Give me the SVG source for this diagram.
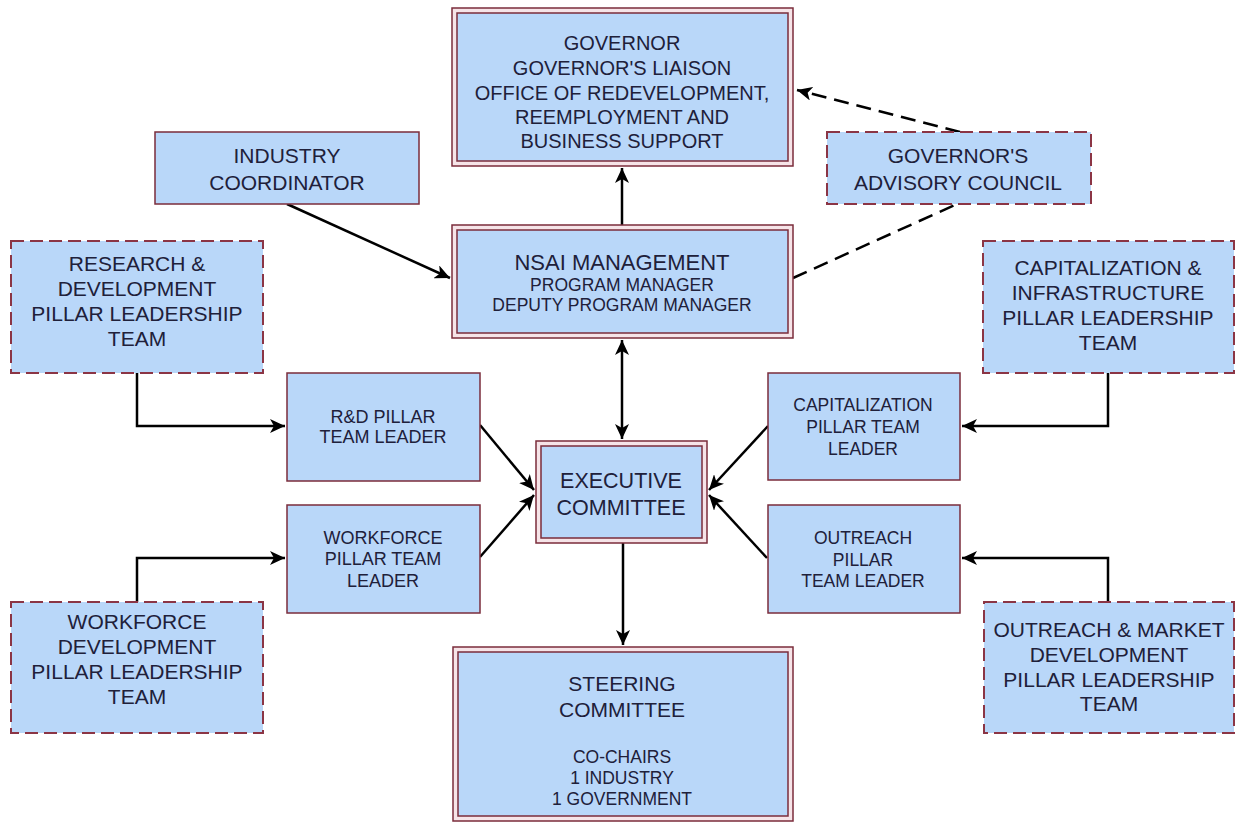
<svg xmlns="http://www.w3.org/2000/svg" width="1236" height="827" viewBox="0 0 1236 827">
<defs>
<style>
.box{fill:#b9d7f9;stroke:#7b2d3b;stroke-width:1.5}
.outer{fill:#f6e4e8;stroke:#7b2d3b;stroke-width:1.5}
.dbox{fill:#b9d7f9;stroke:#8b3545;stroke-width:2;stroke-dasharray:13 6}
.t{font-family:"Liberation Sans",Arial,sans-serif;fill:#20203a;text-anchor:middle}
.c{fill:none;stroke:#000;stroke-width:2.5}
.d{fill:none;stroke:#000;stroke-width:2.5;stroke-dasharray:15 8}
</style>
<marker id="arr" markerUnits="userSpaceOnUse" markerWidth="16" markerHeight="14" refX="15" refY="7" orient="auto-start-reverse" viewBox="0 0 16 14">
<path d="M0,0 L15,7 L0,14 L4,7 Z" fill="#000"/>
</marker>
</defs>
<rect width="1236" height="827" fill="#fff"/>

<g id="connectors">
<path class="c" d="M622,225 V168" marker-end="url(#arr)"/>
<path class="c" d="M287,204 L450,278" marker-end="url(#arr)"/>
<path class="d" d="M960,132 L797,90" marker-end="url(#arr)"/>
<path class="d" d="M793,278 L957,204"/>
<path class="c" d="M622,340 V439" marker-start="url(#arr)" marker-end="url(#arr)"/>
<path class="c" d="M137,373 V426 H285" marker-end="url(#arr)"/>
<path class="c" d="M137,602 V558 H285" marker-end="url(#arr)"/>
<path class="c" d="M1108,373 V426 H962" marker-end="url(#arr)"/>
<path class="c" d="M1108,602 V558 H962" marker-end="url(#arr)"/>
<path class="c" d="M480,425 L534,490" marker-end="url(#arr)"/>
<path class="c" d="M480,557 L534,495" marker-end="url(#arr)"/>
<path class="c" d="M768,426 L709,490" marker-end="url(#arr)"/>
<path class="c" d="M767,558 L709,495" marker-end="url(#arr)"/>
<path class="c" d="M623,543 V645" marker-end="url(#arr)"/>
</g>

<g id="governor">
<rect class="outer" x="452" y="8" width="341" height="158"/>
<rect class="box" x="457" y="13" width="331" height="148"/>
<text class="t" font-size="20"><tspan x="622" y="50">GOVERNOR</tspan><tspan x="622" y="75">GOVERNOR'S LIAISON</tspan><tspan x="622" y="100">OFFICE OF REDEVELOPMENT,</tspan><tspan x="622" y="124">REEMPLOYMENT AND</tspan><tspan x="622" y="148">BUSINESS SUPPORT</tspan></text>
</g>

<g id="industry-coordinator">
<rect class="box" x="155" y="132" width="264" height="72"/>
<text class="t" font-size="21"><tspan x="287" y="163">INDUSTRY</tspan><tspan x="287" y="190">COORDINATOR</tspan></text>
</g>

<g id="advisory-council">
<rect class="dbox" x="827" y="132" width="264" height="72"/>
<text class="t" font-size="21"><tspan x="958" y="163">GOVERNOR'S</tspan><tspan x="958" y="190">ADVISORY COUNCIL</tspan></text>
</g>

<g id="nsai-management">
<rect class="outer" x="452" y="225" width="341" height="113"/>
<rect class="box" x="457" y="230" width="331" height="103"/>
<text class="t"><tspan x="622" y="270" font-size="22">NSAI MANAGEMENT</tspan><tspan x="622" y="291" font-size="17.5">PROGRAM MANAGER</tspan><tspan x="622" y="311" font-size="17.5">DEPUTY PROGRAM MANAGER</tspan></text>
</g>

<g id="rd-leadership">
<rect class="dbox" x="11" y="241" width="252" height="132"/>
<text class="t" font-size="21"><tspan x="137" y="271">RESEARCH &amp;</tspan><tspan x="137" y="296">DEVELOPMENT</tspan><tspan x="137" y="321">PILLAR LEADERSHIP</tspan><tspan x="137" y="346">TEAM</tspan></text>
</g>

<g id="cap-leadership">
<rect class="dbox" x="983" y="241" width="251" height="132"/>
<text class="t" font-size="21"><tspan x="1108" y="275">CAPITALIZATION &amp;</tspan><tspan x="1108" y="300">INFRASTRUCTURE</tspan><tspan x="1108" y="325">PILLAR LEADERSHIP</tspan><tspan x="1108" y="350">TEAM</tspan></text>
</g>

<g id="rd-team-leader">
<rect class="box" x="287" y="373" width="193" height="108"/>
<text class="t" font-size="18"><tspan x="383" y="423">R&amp;D PILLAR</tspan><tspan x="383" y="443">TEAM LEADER</tspan></text>
</g>

<g id="workforce-team-leader">
<rect class="box" x="287" y="505" width="193" height="108"/>
<text class="t" font-size="18"><tspan x="383" y="544">WORKFORCE</tspan><tspan x="383" y="565">PILLAR TEAM</tspan><tspan x="383" y="587">LEADER</tspan></text>
</g>

<g id="cap-team-leader">
<rect class="box" x="768" y="373" width="192" height="107"/>
<text class="t" font-size="17.5"><tspan x="863" y="411">CAPITALIZATION</tspan><tspan x="863" y="433">PILLAR TEAM</tspan><tspan x="863" y="455">LEADER</tspan></text>
</g>

<g id="outreach-team-leader">
<rect class="box" x="768" y="505" width="192" height="108"/>
<text class="t" font-size="17.5"><tspan x="863" y="544">OUTREACH</tspan><tspan x="863" y="566">PILLAR</tspan><tspan x="863" y="587">TEAM LEADER</tspan></text>
</g>

<g id="executive-committee">
<rect class="outer" x="536" y="441" width="171" height="102"/>
<rect class="box" x="541" y="446" width="161" height="92"/>
<text class="t" font-size="21.5"><tspan x="621" y="488">EXECUTIVE</tspan><tspan x="621" y="515">COMMITTEE</tspan></text>
</g>

<g id="workforce-leadership">
<rect class="dbox" x="11" y="602" width="252" height="131"/>
<text class="t" font-size="21"><tspan x="137" y="629">WORKFORCE</tspan><tspan x="137" y="654">DEVELOPMENT</tspan><tspan x="137" y="679">PILLAR LEADERSHIP</tspan><tspan x="137" y="704">TEAM</tspan></text>
</g>

<g id="outreach-leadership">
<rect class="dbox" x="984" y="602" width="250" height="131"/>
<text class="t" font-size="21"><tspan x="1109" y="637">OUTREACH &amp; MARKET</tspan><tspan x="1109" y="662">DEVELOPMENT</tspan><tspan x="1109" y="687">PILLAR LEADERSHIP</tspan><tspan x="1109" y="711">TEAM</tspan></text>
</g>

<g id="steering-committee">
<rect class="outer" x="453" y="647" width="340" height="174"/>
<rect class="box" x="458" y="652" width="330" height="164"/>
<text class="t"><tspan x="622" y="691" font-size="21">STEERING</tspan><tspan x="622" y="717" font-size="21">COMMITTEE</tspan><tspan x="622" y="763" font-size="17.5">CO-CHAIRS</tspan><tspan x="622" y="784" font-size="17.5">1 INDUSTRY</tspan><tspan x="622" y="805" font-size="17.5">1 GOVERNMENT</tspan></text>
</g>
</svg>
